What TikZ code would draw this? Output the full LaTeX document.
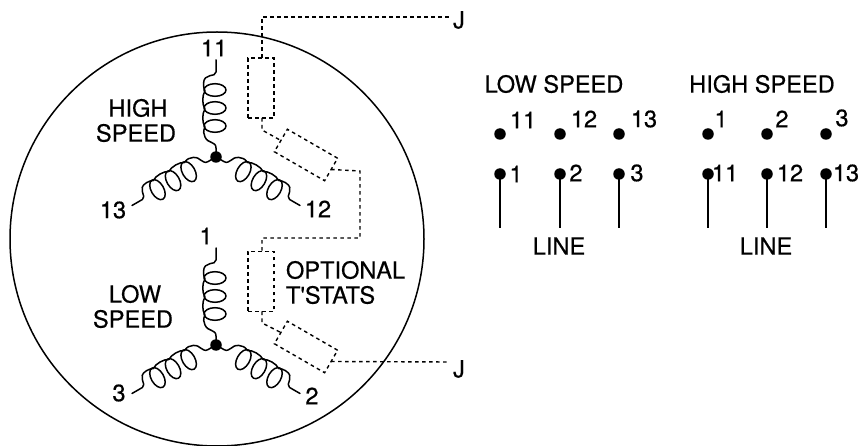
\documentclass[tikz,border=0pt]{standalone}
\usepackage{fontspec}
\newfontfamily\labfont{TeX Gyre Heros}[RawFeature={embolden=0.5}]
\tikzset{
  wire/.style={line width=1.5pt,line cap=round,line join=round,black},
  dashwire/.style={line width=1.4pt,dash pattern=on 3.6pt off 3.4pt,black},
  tstat/.style={draw,line width=1.4pt,dash pattern=on 3.6pt off 3.4pt,minimum width=58pt,minimum height=26pt,inner sep=0pt,outer sep=0pt},
  tstatv/.style={draw,line width=1.4pt,dash pattern=on 3.6pt off 3.4pt,minimum width=26pt,minimum height=60pt,inner sep=0pt,outer sep=0pt},
  dot/.style={circle,fill=black,inner sep=0pt,minimum size=11.5pt},
  lab/.style={font=\labfont\fontsize{23.6}{26}\selectfont,inner sep=0pt,outer sep=0pt},
  coil/.pic={
    \draw[wire] (0,-97) -- (0,-85) .. controls (0,-79) and (-12.5,-85) .. (-12.5,-73)
       .. controls (-12.5,-70) and (-12,-68) .. (-11,-66)
       .. controls (-14,-62) and (-14,-52) .. (-11,-48)
       .. controls (-14,-44) and (-14,-34) .. (-11,-30)
       .. controls (-13,-26) and (-12.5,-23) .. (-11,-20)
       .. controls (-8,-13) and (0,-16) .. (0,-9) -- (0,0);
    \draw[wire] (-1,-67) ellipse[x radius=11,y radius=6.3];
    \draw[wire] (-1,-49) ellipse[x radius=11,y radius=6.3];
    \draw[wire] (-1,-31) ellipse[x radius=11,y radius=6.3];
  }
}
\begin{document}
\begin{tikzpicture}[x=1pt,y=-1pt]
\useasboundingbox (0,0) rectangle (862,446);
\begin{scope}
\clip (0,0) rectangle (862,446);
\node[circle,draw,line width=1.5pt,minimum size=414pt,inner sep=0pt] (frame) at (217,239) {};
\end{scope}
% coils high speed
\node[dot] (jh) at (216,157) {};
\pic at (jh.center) {coil};
\pic[rotate=-120] at (jh.center) {coil};
\pic[rotate=120,xscale=-1] at (jh.center) {coil};
% coils low speed
\node[dot] (jl) at (216,345) {};
\pic at (jl.center) {coil};
\pic[rotate=-120] at (jl.center) {coil};
\pic[rotate=120,xscale=-1] at (jl.center) {coil};
% thermostats
\node[tstatv] (t1) at (261,88) {};
\node[tstat,rotate=-30] (t2) at (306,155) {};
\node[tstatv] (t3) at (261,281.5) {};
\node[tstat,rotate=-30] (t4) at (306,347) {};
\coordinate (j1) at (450,17);
\coordinate (j2) at (450,362);
\draw[dashwire] (262,58) -- (262,17) -- (j1);
\draw[dashwire] (262,118) -- (262,130) -- (t2.west);
\draw[dashwire] (t2.east) -- (360,171) -- (360,238) -- (262,238) -- (262,251.5);
\draw[dashwire] (262,311.5) -- (262,323) -- (t4.west);
\draw[dashwire] (t4.east) -- (j2);
% labels left
\node[lab] (lj1) at (459,20) {J};
\node[lab] (lj2) at (459,369) {J};
\node[lab] (l11) at (214,48) {11};
\node[lab] (l13) at (113,210) {13};
\node[lab] (l12) at (318,209) {12};
\node[lab] (l1) at (206,236) {1};
\node[lab] (l3) at (119,393) {3};
\node[lab] (l2) at (312,396) {2};
\node[lab] (hi) at (138,108) {HIGH};
\node[lab] (hs) at (136,133) {SPEED};
\node[lab] (lo) at (135,294) {LOW};
\node[lab] (ls) at (133,319) {SPEED};
\node[lab,anchor=west] (op) at (286,270) {OPTIONAL};
\node[lab,anchor=west] (ts) at (286,295) {T'STATS};
% right diagrams
\node[lab] (tl) at (554,84) {LOW SPEED};
\node[lab] (th) at (762,84) {HIGH SPEED};
\foreach \n/\x in {a/500,b/560,c/619,d/708,e/767,f/826}{
  \node[dot] (u\n) at (\x,134) {};
  \node[dot] (v\n) at (\x,174) {};
  \coordinate (w\n) at (\x,228);
  \draw[wire,line cap=butt] (v\n.center) -- (w\n);
}
\foreach \t/\x/\y in {11/523/120,12/584/119,13/644/119,1/721/119,2/782/119,3/842/118,
                      1/516/174,2/576/173,3/637/173,11/725/173,12/790/173,13/846/173}{
  \node[lab] at (\x,\y) {\t};
}
\node[lab] (la) at (559,246) {LINE};
\node[lab] (lb) at (766,246) {LINE};
\end{tikzpicture}
\end{document}
